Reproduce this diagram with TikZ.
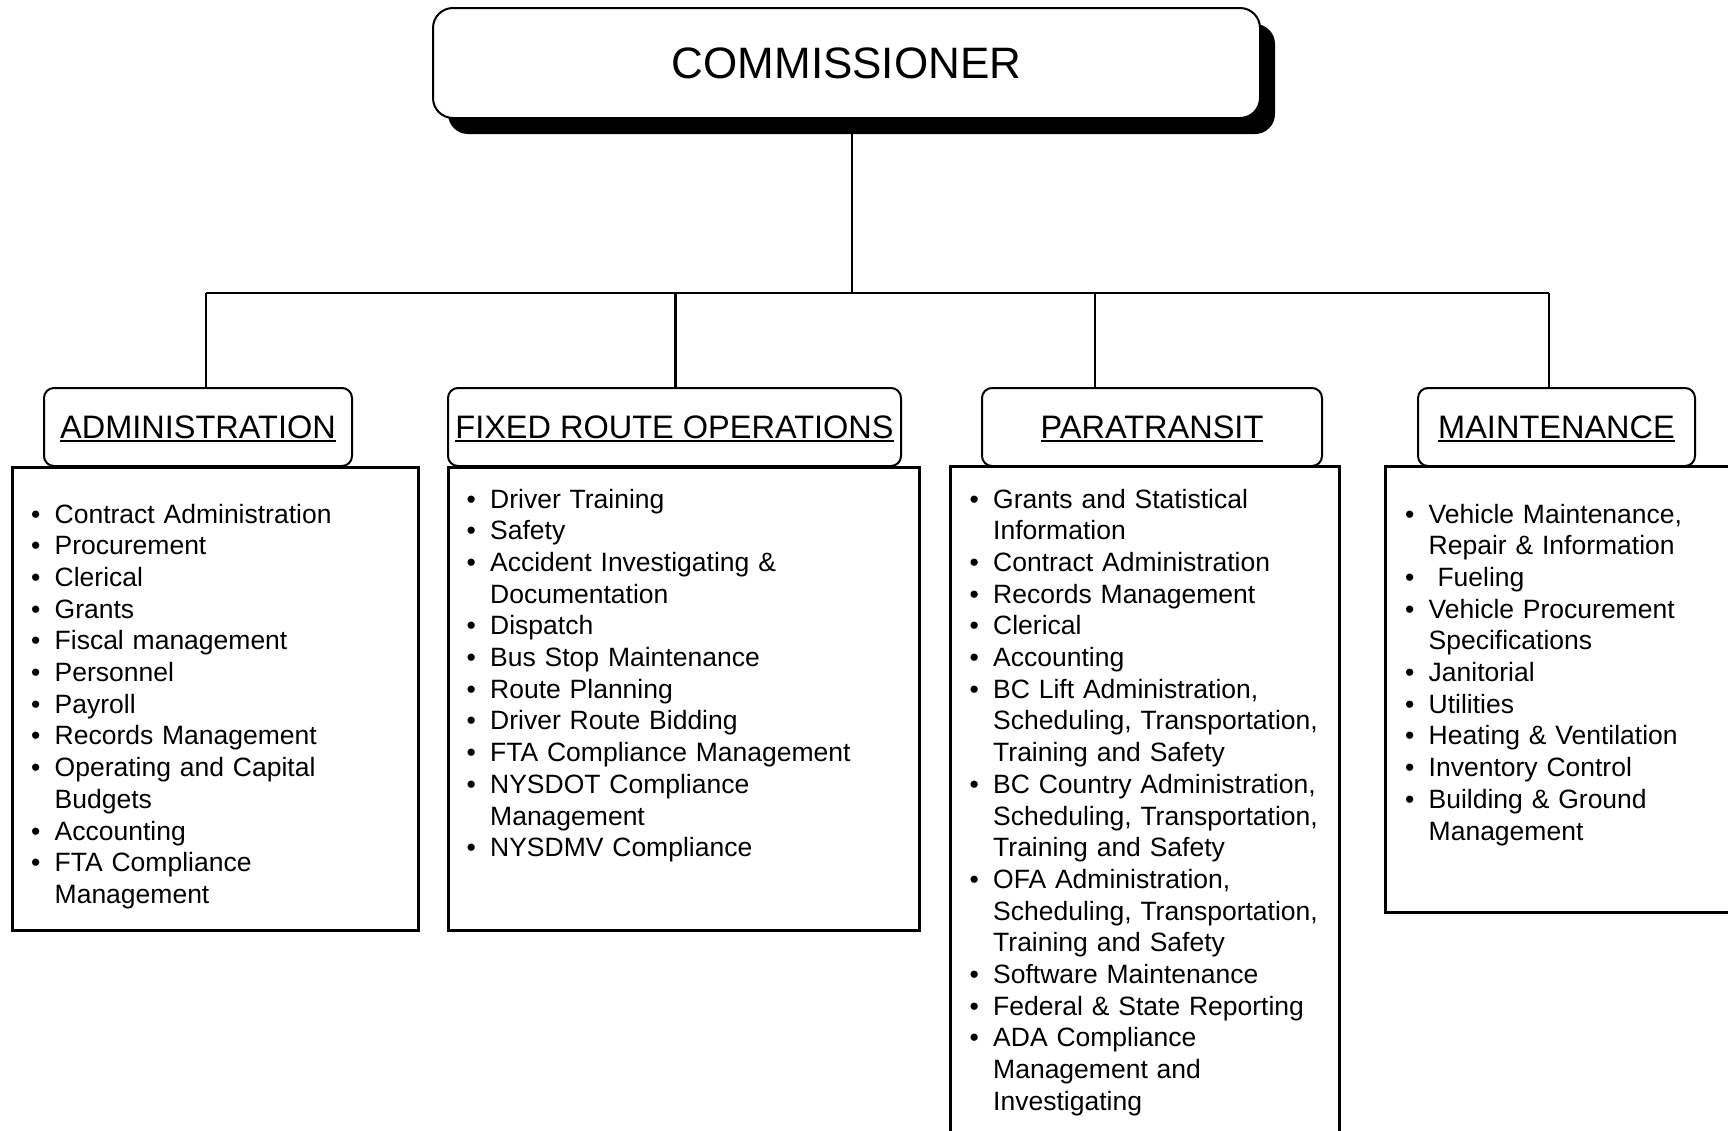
\documentclass[tikz,border=0pt]{standalone}
\usepackage{fontspec}
\setmainfont{Liberation Sans}
\usetikzlibrary{shadows}
\newcommand{\itm}[1]{\hangindent=23.5pt\hangafter=1\noindent\hbox to 23.5pt{\textbullet\hfil}#1\par}
\newcommand{\uline}[1]{\setbox0\hbox{#1}\rlap{\smash{\rule[-4pt]{\wd0}{2pt}}}\box0}
\begin{document}
\begin{tikzpicture}[x=1pt,y=-1pt,
  commbox/.style={draw, line width=2pt, rounded corners=20pt, fill=white,
    minimum width=827pt, minimum height=110pt, inner sep=0pt,
    font=\fontsize{44}{50}\selectfont,
    drop shadow={shadow xshift=15pt, shadow yshift=-16pt, fill=black, opacity=1}},
  headbox/.style={draw, line width=2pt, rounded corners=10pt, minimum height=78pt,
    inner sep=0pt, font=\fontsize{32.5}{36}\selectfont},
  listbox/.style={draw, line width=3pt, anchor=north west, inner sep=0pt},
  bodytext/.style={anchor=base west, inner sep=0pt, align=left,
    font=\fontsize{26.5}{31.7}\selectfont},
  conn/.style={line width=2.5pt}
]
\useasboundingbox (0,0) rectangle (1728,1130);
\fill[white] (0,0) rectangle (1728,1130);

% commissioner
\node[commbox] (comm) at (846.5,63) {COMMISSIONER};

% list boxes
\node[listbox, minimum width=406pt, minimum height=463pt] (adminbox) at (11,466) {};
\node[listbox, minimum width=471pt, minimum height=463pt] (fixedbox) at (447,466) {};
\draw[line width=3pt] (950,1132) |- (1339,466) -- (1339,1132);
\draw[line width=3pt] (1730,466) -- (1385,466) -- (1385,912) -- (1730,912);

% headers
\node[headbox, minimum width=308pt] (h1) at (198,427) {\uline{ADMINISTRATION}};
\node[headbox, minimum width=453pt] (h2) at (674.5,427) {\uline{FIXED ROUTE OPERATIONS}};
\node[headbox, minimum width=340pt] (h3) at (1152,427) {\uline{PARATRANSIT}};
\node[headbox, minimum width=277pt] (h4) at (1556.5,427) {\uline{MAINTENANCE}};

% connectors
\coordinate (bus) at (852,293);
\coordinate (d1) at (206,293);
\coordinate (d2) at (675.5,293);
\coordinate (d3) at (1095,293);
\coordinate (d4) at (1549,293);
\draw[conn] (comm.south -| bus) -- (bus);
\draw[conn] (d1) -- (d4);
\draw[conn] (d1) -- (d1 |- h1.north);
\draw[conn] (d2) -- (d2 |- h2.north);
\draw[conn] (d3) -- (d3 |- h3.north);
\draw[conn] (d4) -- (d4 |- h4.north);

% lists
\node[bodytext, text width=380pt] (adminlist) at (31,523) {%
\itm{Contract Administration}
\itm{Procurement}
\itm{Clerical}
\itm{Grants}
\itm{Fiscal management}
\itm{Personnel}
\itm{Payroll}
\itm{Records Management}
\itm{Operating and Capital\newline Budgets}
\itm{Accounting}
\itm{FTA Compliance\newline Management}};

\node[bodytext, text width=440pt] (fixedlist) at (466.5,508) {%
\itm{Driver Training}
\itm{Safety}
\itm{Accident Investigating \&\newline Documentation}
\itm{Dispatch}
\itm{Bus Stop Maintenance}
\itm{Route Planning}
\itm{Driver Route Bidding}
\itm{FTA Compliance Management}
\itm{NYSDOT Compliance\newline Management}
\itm{NYSDMV Compliance}};

\node[bodytext, text width=370pt] (paralist) at (969.5,508) {%
\itm{Grants and Statistical\newline Information}
\itm{Contract Administration}
\itm{Records Management}
\itm{Clerical}
\itm{Accounting}
\itm{BC Lift Administration,\newline Scheduling, Transportation,\newline Training and Safety}
\itm{BC Country Administration,\newline Scheduling, Transportation,\newline Training and Safety}
\itm{OFA Administration,\newline Scheduling, Transportation,\newline Training and Safety}
\itm{Software Maintenance}
\itm{Federal \& State Reporting}
\itm{ADA Compliance\newline Management and\newline Investigating}};

\node[bodytext, text width=318pt] (maintlist) at (1405,523) {%
\itm{Vehicle Maintenance,\newline Repair \& Information}
\itm{\ Fueling}
\itm{Vehicle Procurement\newline Specifications}
\itm{Janitorial}
\itm{Utilities}
\itm{Heating \& Ventilation}
\itm{Inventory Control}
\itm{Building \& Ground\newline Management}};
\end{tikzpicture}
\end{document}
